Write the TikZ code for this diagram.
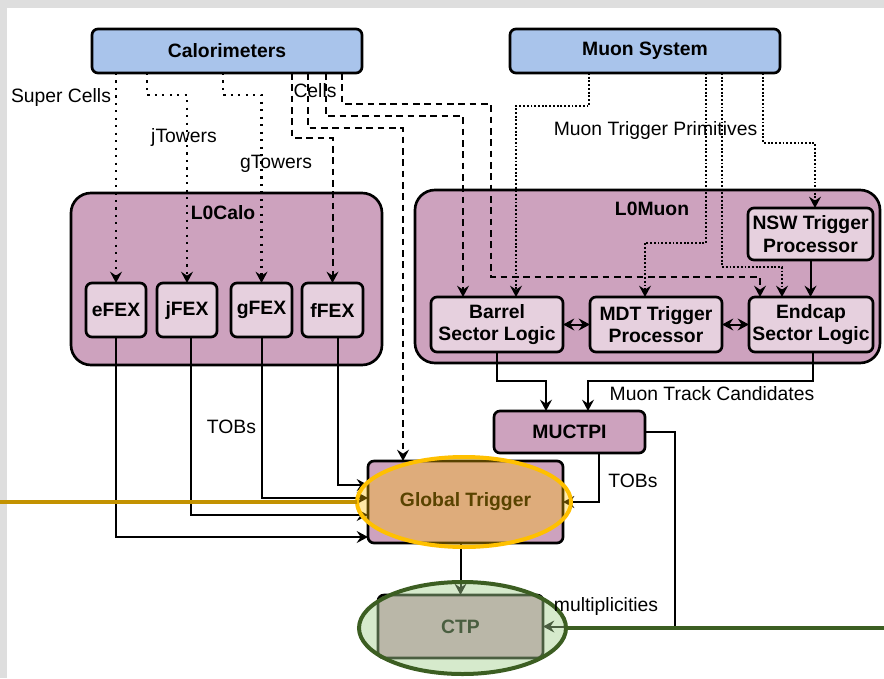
\documentclass[tikz,border=0pt]{standalone}
\usepackage{fontspec}
\setmainfont{Liberation Sans}
\usetikzlibrary{arrows.meta,shapes.geometric,calc}

\definecolor{srcblue}{HTML}{A9C4EB}
\definecolor{grpfill}{HTML}{CDA2BE}
\definecolor{modfill}{HTML}{E6D0DE}
\definecolor{gold}{HTML}{FFC000}
\definecolor{goldline}{HTML}{C39200}
\definecolor{leaf}{RGB}{165,210,143}
\definecolor{forest}{RGB}{60,94,34}
\definecolor{frame}{RGB}{222,222,222}

\begin{document}
\begin{tikzpicture}[x=0.75pt,y=-0.75pt,
  every node/.style={font=\fontsize{14.5}{17}\selectfont, outer sep=0pt},
  sz/.style 2 args={minimum width=#1*0.75pt, minimum height=#2*0.75pt},
  boxbase/.style={draw=black, line width=2pt, rounded corners=4.5pt, inner sep=0pt,
    align=center, font=\fontsize{14.5}{17}\selectfont\bfseries},
  srcbox/.style={boxbase, fill=srcblue},
  modbox/.style={boxbase, fill=modfill},
  grpbox/.style={boxbase, fill=grpfill},
  grp/.style={draw=black, line width=2pt, fill=grpfill, rounded corners=15pt, inner sep=0pt},
  title/.style={font=\fontsize{14.5}{17}\selectfont\bfseries},
  >={Stealth[length=8.5pt, width=9pt, inset=3pt]},
  link/.style={line width=1.5pt},
  cdot/.style={line width=1.6pt, dash pattern=on 1.6pt off 4pt, ->},
  mdot/.style={line width=1.5pt, dash pattern=on 1.4pt off 1.4pt, ->},
  cdash/.style={line width=1.5pt, dash pattern=on 5pt off 3.5pt, ->},
  ring/.style={ellipse, inner sep=0pt, line width=3pt, draw opacity=1},
]
% canvas
\fill[frame] (0,0) rectangle (884,678);
\fill[white] (7,8) rectangle (884,678);
\useasboundingbox (0,0) rectangle (884,678);

% detector sources
\node[srcbox, sz={270}{44}] (calo) at (227,51) {Calorimeters};
\node[srcbox, sz={270}{44}] (muon) at (645,51) {Muon System};

% level-0 groups
\node[grp, sz={311}{172}] (l0calo) at (226.5,279) {};
\node[grp, sz={465}{173}] (l0muon) at (647.5,276.5) {};
\node[title] (l0calot) at (223,213) {L0Calo};
\node[title] (l0muont) at (652,209) {L0Muon};

% feature extractors
\node[modbox, sz={60}{54}] (efex) at (116,310) {eFEX};
\node[modbox, sz={60}{54}] (jfex) at (187,310) {jFEX};
\node[modbox, sz={61}{54}] (gfex) at (261.5,310) {gFEX};
\node[modbox, sz={61}{54}] (ffex) at (332.5,310) {fFEX};

% muon processors
\node[modbox, sz={132}{55}] (barrel) at (497,324.5) {Barrel\\Sector Logic};
\node[modbox, sz={132}{55}] (mdt) at (656,324.5) {MDT Trigger\\Processor};
\node[modbox, sz={124}{55}] (endcap) at (811,324.5) {Endcap\\Sector Logic};
\node[modbox, sz={125}{52}] (nsw) at (810.5,234) {NSW Trigger\\Processor};

% central trigger
\node[grpbox, sz={151}{42}] (muctpi) at (569.5,432) {MUCTPI};
\node[grpbox, sz={195}{82}] (gt) at (465.5,502) {Global Trigger};
\node[grpbox, sz={165}{63}] (ctp) at (460.5,626.5) {CTP};

% calorimeter feeds
\draw[cdot] (calo.south -| efex.north) -- (efex.north);
\draw[cdot] ($(calo.south west)+(55,0)$) -- ++(0,22) -| (jfex.north);
\draw[cdot] ($(calo.south west)+(131,0)$) -- ++(0,22) -| (gfex.north);
\draw[cdash] ($(calo.south west)+(200,0)$) -- ++(0,65) -| (ffex.north);
\draw[cdash] ($(calo.south west)+(216,0)$) -- ++(0,55) -| ($(gt.north west)+(35,0)$);
\draw[cdash] ($(calo.south west)+(234,0)$) -- ++(0,43) -| ($(barrel.north west)+(32,0)$);
\draw[cdash] ($(calo.south west)+(250,0)$) -- ++(0,31) -- ++(149,0)
  |- ($(endcap.north west)+(11,-20)$) -- ($(endcap.north west)+(11,0)$);

% muon trigger primitives
\draw[mdot] ($(muon.south west)+(79,0)$) -- ++(0,33) -| ($(barrel.north west)+(85,0)$);
\draw[mdot] ($(muon.south west)+(196,0)$) -- ++(0,170) -| ($(mdt.north west)+(55,0)$);
\draw[mdot] ($(muon.south west)+(212,0)$) -- ++(0,194) -| ($(endcap.north west)+(33,0)$);
\draw[mdot] ($(muon.south west)+(253,0)$) -- ++(0,70) -| ($(nsw.north west)+(67,0)$);

% muon processor links
\draw[link,<->] (barrel.east) -- (mdt.west);
\draw[link,<->] (mdt.east) -- (endcap.west);
\draw[link,->] (nsw.south) -- (nsw.south |- endcap.north);
\draw[link,->] (barrel.south) -- ++(0,29) -| ($(muctpi.north west)+(52,0)$);
\draw[link,->] ($(endcap.south)+(2,0)$) -- ++(0,29) -| ($(muctpi.north west)+(94,0)$);

% trigger objects to the global trigger and CTP
\draw[link,->] ($(muctpi.south west)+(105,0)$) |- (gt.east);
\draw[link,->] (muctpi.east) -- ++(30,0) |- (ctp.east);
\draw[link,->] (efex.south) |- ($(gt.south west)+(0,-6)$);
\draw[link,->] ($(jfex.south)+(4,0)$) |- ($(gt.west)+(0,13)$);
\draw[link,->] (gfex.south) |- ($(gt.west)+(0,-4)$);
\draw[link,->] ($(ffex.south)+(5,0)$) |- ($(gt.west)+(0,-17)$);
\draw[link,->] (ctp.north |- gt.south) -- (ctp.north);

% highlights
\node[ring, draw=gold, fill=gold, fill opacity=0.35, sz={214}{90}] (gtring) at (464,502) {};
\node[ring, draw=forest, fill=leaf, fill opacity=0.45, sz={207}{92}] (ctpring) at (462.5,628) {};
\coordinate (feedL) at (0,502);
\coordinate (feedR) at (884,628);
\draw[goldline, line width=3pt] (feedL) -- (gtring.west);
\draw[forest, line width=3pt] (feedR) -- (ctpring.east);

% labels
\node (lsc) at (61,97) {Super Cells};
\node (ljt) at (184,137) {jTowers};
\node (lgt) at (276,164) {gTowers};
\node (lce) at (315,91) {Cells};
\node (lmtp) at (655.5,130) {Muon Trigger Primitives};
\node (lmtc) at (712,394) {Muon Track Candidates};
\node (ltob1) at (231.5,427) {TOBs};
\node (ltob2) at (633,481) {TOBs};
\node (lmul) at (606,606) {multiplicities};
\end{tikzpicture}
\end{document}
